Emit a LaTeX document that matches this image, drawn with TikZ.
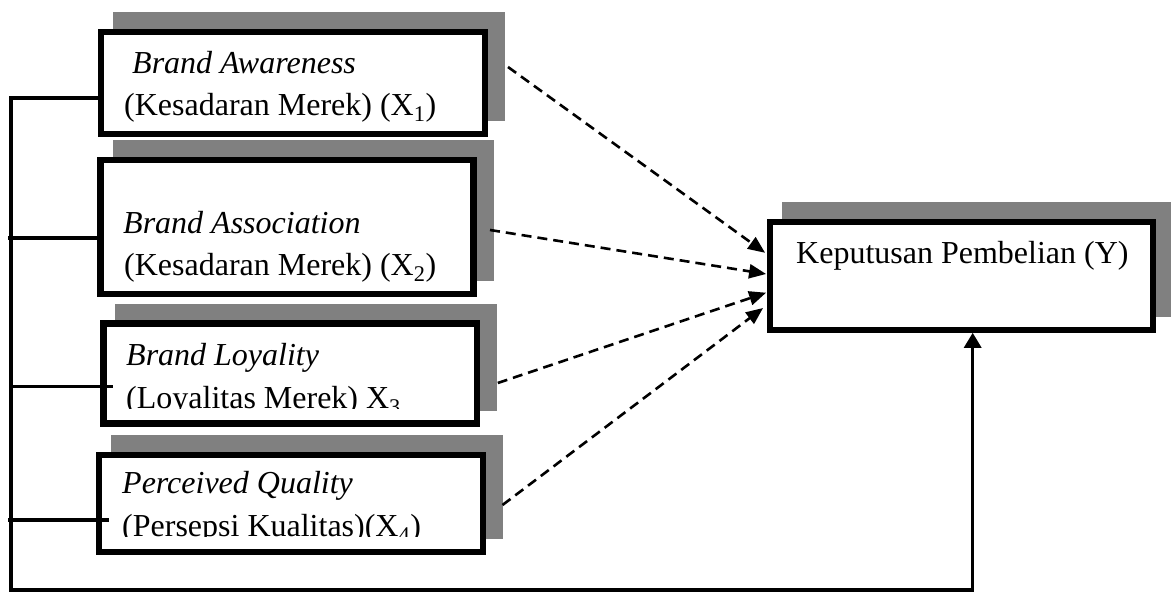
\documentclass[tikz,border=0pt]{standalone}
\usepackage{fontspec}
\setmainfont{Liberation Serif}
\usetikzlibrary{arrows.meta,backgrounds}

\tikzstyle{var} = [rectangle, draw, line width=6.5pt, fill=white, inner sep=0pt, outer sep=0pt]
\tikzstyle{shadowbox} = [fill=black!50]
\tikzstyle{txt} = [anchor=base west, inner sep=0pt]
\tikzstyle{line} = [draw, line width=3.2pt]
\tikzstyle{effect} = [draw, line width=2.6pt, dash pattern=on 10pt off 6pt, -{Triangle[length=17pt,width=14pt]}]

\begin{document}
\begin{tikzpicture}[x=1pt, y=-1pt, font=\fontsize{32}{42}\selectfont]
  \useasboundingbox (0,0) rectangle (1171,592);
  %% X boxes
  \node[var, minimum width=384pt, minimum height=102pt] (aw) at (293,83) {};
  \node[var, minimum width=373pt, minimum height=134pt] (as) at (287,227) {};
  \node[var, minimum width=373.5pt, minimum height=100pt] (lo) at (290,373.7) {};
  \node[var, minimum width=384pt, minimum height=97pt] (pq) at (291,503.3) {};
  %% Y box
  \node[var, minimum width=383pt, minimum height=108pt] (kp) at (961.3,275.8) {};
  %% shadows behind the boxes
  \begin{pgfonlayer}{background}
    \foreach \b in {aw,as,lo,pq,kp}
      \fill[shadowbox] ([shift={(12,-20)}]\b.north west) rectangle ([shift={(20,-13)}]\b.south east);
  \end{pgfonlayer}
  %% box texts
  \node[txt] (aw1) at (132,73) {\textit{Brand Awareness}};
  \node[txt] (aw2) at (124,115) {(Kesadaran Merek) (X\textsubscript{1})};
  \node[txt] (as1) at (123,233) {\textit{Brand Association}};
  \node[txt] (as2) at (124,275) {(Kesadaran Merek) (X\textsubscript{2})};
  \node[txt] (lo1) at (126,365) {\textit{Brand Loyality}};
  \begin{scope}
    \clip (lo.north west) rectangle ([yshift=15pt]lo.south east);
    \node[txt] (lo2) at (126,408) {(Loyalitas Merek) X\textsubscript{3}};
  \end{scope}
  \node[txt] (pq1) at (122,493) {\textit{Perceived Quality}};
  \begin{scope}
    \clip (pq.north west) rectangle ([yshift=15pt]pq.south east);
    \node[txt] (pq2) at (122,536) {(Persepsi Kualitas)(X\textsubscript{4})};
  \end{scope}
  \node[txt] (kp1) at (796,263) {Keputusan Pembelian (Y)};
  %% left bus
  \coordinate (j1) at (11,98);
  \coordinate (j2) at (8,238);
  \coordinate (j3) at (11,386.7);
  \coordinate (j4) at (8,520);
  \coordinate (bus) at (11,590);
  \path[line, -{Triangle[length=15pt,width=17pt]}] (j1 -| aw.west) -- (j1) -- (bus) -| ([shift={(11.4,3)}]kp.south);
  \path[line] (j2) -- (j2 -| as.west);
  \path[line] (j3) -- (j3 -| lo.west) -- ++(10,0);
  \path[line] (j4) -- (j4 -| pq.west) -- ++(10,0);
  %% dashed arrows to Y
  \path[effect] ([shift={(23,-16)}]aw.east) -- ([shift={(-4.7,-23)}]kp.west);
  \path[effect] ([shift={(16.5,3)}]as.east) -- ([shift={(-3.7,-1.8)}]kp.west);
  \path[effect] ([shift={(21,9.3)}]lo.east) -- ([shift={(-3.7,16.9)}]kp.west);
  \path[effect] ([shift={(19.5,1.7)}]pq.east) -- ([shift={(-6.7,32.2)}]kp.west);
\end{tikzpicture}
\end{document}
